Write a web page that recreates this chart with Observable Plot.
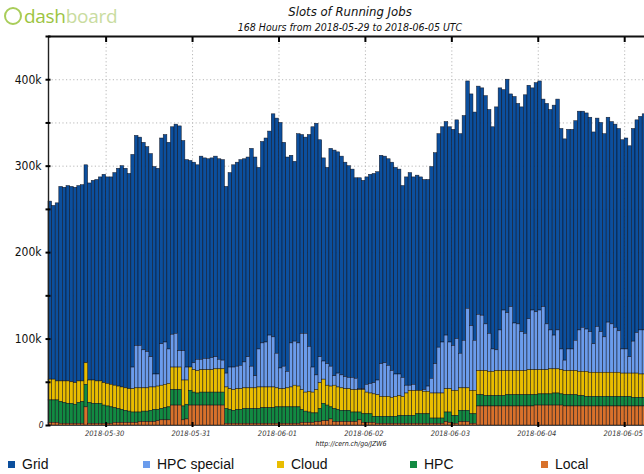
<!DOCTYPE html>
<html><head><meta charset="utf-8">
<script src="https://cdn.jsdelivr.net/npm/d3@7"></script>
<script src="https://cdn.jsdelivr.net/npm/@observablehq/plot@0.6"></script>
<style>
html,body{margin:0;padding:0;background:#fff;overflow:hidden;width:644px;height:474px;}
#wrap{position:relative;width:644px;height:474px;overflow:hidden;}
#chart{position:absolute;left:0;top:0;}
#chart svg{max-width:none !important;}
#logo{position:absolute;left:4px;top:3px;font-family:"Open Sans",sans-serif;font-size:19px;letter-spacing:-0.3px;}
#logo .ic{display:inline-block;width:14px;height:14px;border:2px solid #a9cd5a;border-radius:50%;vertical-align:-2px;margin-right:2px;}
#logo .a{color:#9cc441;}
#logo .b{color:#c9dca0;}
#title{position:absolute;left:0;width:700px;top:4px;text-align:center;font-family:"DejaVu Sans Condensed","DejaVu Sans",sans-serif;font-style:italic;font-size:13px;color:#111;}
#subtitle{position:absolute;left:0;width:700px;top:21px;text-align:center;font-family:"DejaVu Sans Condensed","DejaVu Sans",sans-serif;font-style:italic;font-size:10.5px;color:#111;}
#caption{position:absolute;left:0;width:702px;top:440px;text-align:center;font-family:"DejaVu Sans Condensed","DejaVu Sans",sans-serif;font-style:italic;font-size:7px;color:#222;}
#legend{position:absolute;left:0;top:456px;width:644px;height:18px;font-family:"Liberation Sans",Arial,sans-serif;font-size:14px;color:#111;}
#legend .item{position:absolute;top:0;white-space:nowrap;}
#legend .sw{display:inline-block;width:7px;height:7px;margin-right:7px;vertical-align:1px;}
</style></head><body>
<div id="wrap">
  <div id="logo"><span class="ic"></span><span class="a">dash</span><span class="b">board</span></div>
  <div id="title">Slots of Running Jobs</div>
  <div id="subtitle">168 Hours from 2018-05-29 to 2018-06-05 UTC</div>
  <div id="chart"></div>
  <div id="caption">http://cern.ch/go/JZW6</div>
  <div id="legend"></div>
</div>
<script>
// ---- data (thousands of slots, hourly from 2018-05-29 08:00 UTC) ----
const seriesNames = ["Grid", "HPC special", "Cloud", "HPC", "Local"];
const seriesColors = ["#0c4f9d", "#6b9cec", "#e9bd00", "#128a42", "#d8712b"];
const stackOrder = ["Local", "HPC", "Cloud", "HPC special", "Grid"];
const firstHour = "2018-05-29T08:00:00Z";
const lastHourEnd = "2018-06-05T08:00:00Z";
const dateTickLabels = ["2018-05-30","2018-05-31","2018-06-01","2018-06-02","2018-06-03","2018-06-04","2018-06-05"];
const yTickLabels = ["100k","200k","300k","400k"];
const yTickValues = [100000,200000,300000,400000];
const yMinorValues = [0,50000,100000,150000,200000,250000,300000,350000,400000,450000];
const yMax = 450000;

const grid = [206,201,206,225,224,226,226,226,226,227,229,228,231,233,236,241,239,240,246,252,256,254,249,246,243,241,240,237,235,240,
238,238,240,239,240,242,260,243,240,239,232,225,235,232,231,231,232,232,232,216,225,234,236,238,235,231,252,253,210,233,
236,236,258,272,284,259,248,217,208,242,230,227,245,278,291,251,235,227,252,261,256,253,248,245,241,232,244,241,240,242,
242,241,241,239,239,241,239,237,222,241,246,240,249,247,243,239,245,244,247,249,247,249,250,253,254,260,263,268,264,264,
263,264,259,257,281,280,255,270,246,262,255,260,276,270,257,265,265,240,255,255,266,267,255,256,254,254,254,253,250,250,
248,245,241,242,235,237,234,235,234,242,244,244,246,246,247,250,250,250];
const hpcSpecial = [0,0,0,0,0,0,0,0,0,0,0,0,0,0,0,0,0,0,0,0,0,0,0,25,49,49,44,42,35,15,
14,48,49,40,38,39,19,34,15,0,8,13,12,13,13,14,14,11,10,16,25,26,26,27,30,36,25,14,44,51,
52,60,58,40,24,26,19,51,51,50,65,68,52,29,17,30,21,25,23,11,16,15,14,13,14,13,1,1,9,11,
13,17,38,39,36,31,26,25,22,9,6,7,0,0,2,6,17,34,53,59,62,54,52,60,40,55,92,75,58,65,
64,54,44,26,24,47,70,67,74,55,54,45,43,59,69,67,69,73,53,45,39,45,24,12,25,25,35,48,51,49,
47,33,53,47,41,58,56,52,48,28,28,19,37,47,51,51,53,51];
const cloud = [24,24,22,24,25,26,25,25,25,24,25,26,27,26,26,26,26,26,26,26,26,26,26,27,28,28,27,27,27,26,
27,27,27,27,26,26,26,30,28,27,26,26,26,26,26,26,27,27,27,25,24,24,24,24,24,24,24,24,25,24,
24,24,24,22,21,21,22,23,25,24,23,22,24,24,27,30,28,23,24,27,26,26,25,25,26,26,26,28,25,24,
26,25,23,23,23,22,23,23,22,26,29,29,27,27,26,26,29,29,29,29,27,27,29,29,26,26,26,27,27,28,
28,29,28,28,29,29,29,28,28,28,28,28,28,29,29,29,28,28,28,29,28,28,28,28,28,28,28,28,28,29,
28,28,28,28,28,28,28,28,28,27,27,27,28,28,27,27,27,27];
const hpc = [26,26,26,25,24,23,23,22,24,25,26,24,23,23,23,21,20,19,17,16,15,14,13,12,12,11,12,12,13,14,
13,13,14,15,18,18,18,16,17,17,15,14,15,15,15,15,15,15,15,17,16,15,16,16,17,17,17,17,17,18,
18,18,18,19,19,19,19,19,19,19,15,13,12,11,10,15,20,18,14,15,14,13,13,13,11,11,9,10,10,10,
7,8,8,8,8,8,8,9,9,9,9,9,11,11,11,11,6,6,6,6,11,12,9,9,13,13,13,11,11,13,
13,12,12,12,12,12,12,13,13,13,13,13,13,13,13,12,13,13,13,13,14,14,13,13,13,13,13,12,12,11,
11,11,11,11,11,11,11,11,11,11,11,11,10,10,10,10,10,10];
const local = [3,3,3,2,2,2,2,2,2,2,21,2,2,2,2,2,2,2,3,3,3,3,3,3,3,4,4,4,4,4,
5,6,6,6,23,23,23,6,7,23,23,23,23,23,23,23,23,23,23,2,2,2,2,2,2,2,2,2,2,2,
2,2,2,2,2,2,2,2,2,2,3,3,3,3,4,4,5,5,7,4,4,4,4,4,4,4,6,3,3,3,
3,2,2,2,2,2,2,2,2,2,2,2,2,2,2,2,2,2,2,2,4,3,2,2,4,4,4,2,2,22,
22,22,22,22,22,22,22,22,22,22,22,22,22,22,22,23,23,23,23,23,23,23,23,22,22,22,22,22,22,22,
22,22,22,22,22,22,22,22,22,22,22,22,22,22,22,22,22,22];

const valuesBySeries = {"Grid": grid, "HPC special": hpcSpecial, "Cloud": cloud, "HPC": hpc, "Local": local};

const t0 = new Date(firstHour);
const rows = [];
for (const name of seriesNames) {
  valuesBySeries[name].forEach((v, i) => {
    const x1 = d3.utcHour.offset(t0, i);
    rows.push({series: name, x1, x2: d3.utcHour.offset(x1, 1), value: v * 1000});
  });
}
const dateTicks = dateTickLabels.map(s => new Date(s + "T00:00:00Z"));
const xDomain = [t0, new Date(lastHourEnd)];
const labelFont = '"DejaVu Sans Condensed","DejaVu Sans",sans-serif';

const chart = Plot.plot({
  width: 660,
  height: 474,
  marginLeft: 48,
  marginRight: 7,
  marginTop: 36,
  marginBottom: 49,
  style: {background: "transparent", fontFamily: labelFont, color: "#111", maxWidth: "none"},
  x: {type: "utc", domain: xDomain, axis: null, label: null},
  y: {domain: [0, yMax], axis: null, label: null},
  color: {domain: seriesNames, range: seriesColors},
  marks: [
    Plot.gridY(yMinorValues.slice(1), {stroke: "#b8b8b8", strokeOpacity: 1, strokeDasharray: "1.2,2.4"}),
    Plot.gridX(dateTicks, {stroke: "#b8b8b8", strokeOpacity: 1, strokeDasharray: "1.2,2.4"}),
    Plot.rectY(rows, Plot.stackY({x1: "x1", x2: "x2", y: "value", fill: "series", order: stackOrder,
      stroke: "#0a0a14", strokeWidth: 0.55, strokeOpacity: 0.85})),
    Plot.ruleY([0], {stroke: "#444", strokeWidth: 1}),
    Plot.ruleX([t0], {stroke: "#222", strokeWidth: 1.4}),
    Plot.ruleY([yMax], {stroke: "#111", strokeWidth: 2}),
    // y ticks (crossing the axis line)
    Plot.axisY(yMinorValues, {label: null, tickSize: 5, dx: 2.5, fill: "none", stroke: "#000", strokeWidth: 2}),
    Plot.axisY(yTickValues, {label: null, tickSize: 0, tickPadding: 7, tickFormat: (d) => yTickLabels[yTickValues.indexOf(d)], fontSize: 12, fontFamily: labelFont, fill: "#111"}),
    Plot.axisY([0], {label: null, tickSize: 0, tickPadding: 5, tickFormat: () => "0", fontSize: 8.5, fontStyle: "italic", fontFamily: labelFont, fill: "#222"}),
    // x ticks
    Plot.axisX(dateTicks, {label: null, anchor: "bottom", tickSize: 5, dy: -3, fill: "none", stroke: "#000", strokeWidth: 2}),
    Plot.axisX(dateTicks, {label: null, anchor: "top", tickSize: 5, dy: 5, fill: "none", stroke: "#000", strokeWidth: 2}),
    Plot.axisX(dateTicks, {label: null, anchor: "bottom", tickSize: 0, tickPadding: 5, dx: -1.5,
      tickFormat: (d) => dateTickLabels[dateTicks.findIndex(t => +t === +d)], fontSize: 7.5, fontStyle: "italic", fontFamily: labelFont, fill: "#333"})
  ]
});
document.getElementById("chart").appendChild(chart);

// legend
const legendX = [8, 143, 277, 410, 541];
const legend = document.getElementById("legend");
seriesNames.forEach((name, i) => {
  const item = document.createElement("div");
  item.className = "item";
  item.style.left = legendX[i] + "px";
  const sw = document.createElement("span");
  sw.className = "sw";
  sw.style.background = seriesColors[i];
  item.appendChild(sw);
  item.appendChild(document.createTextNode(name));
  legend.appendChild(item);
});
</script>
</body></html>
